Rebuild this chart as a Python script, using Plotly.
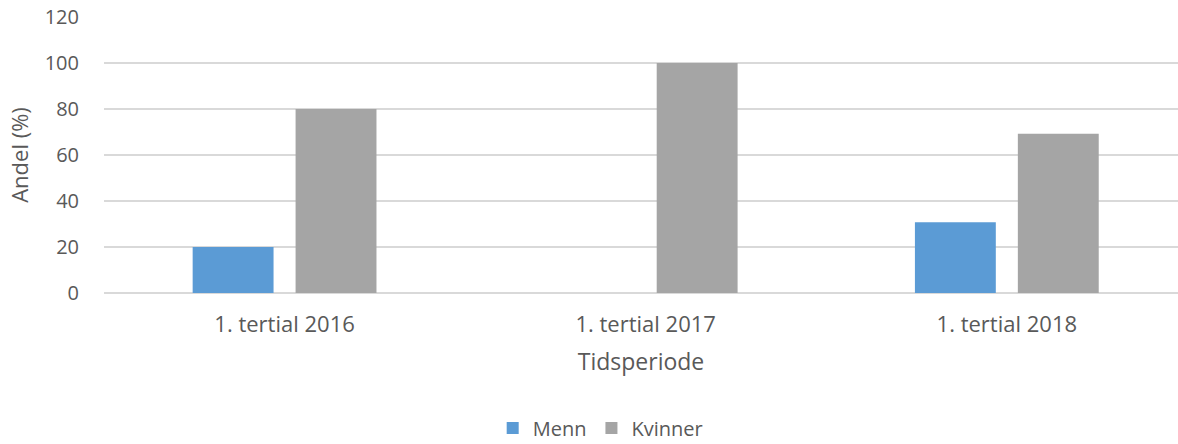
import plotly.graph_objects as go

# data
perioder = ["1. tertial 2016", "1. tertial 2017", "1. tertial 2018"]
menn = [20, 0, 30.8]
kvinner = [80, 100, 69.2]
y_ticks = [0, 20, 40, 60, 80, 100, 120]

FONT = "Open Sans"
GREY_TXT = "#595959"

fig = go.Figure()

fig.add_trace(go.Bar(x=perioder, y=menn, name="Menn",
                     marker=dict(color="#5b9bd5", line=dict(width=0))))
fig.add_trace(go.Bar(x=perioder, y=kvinner, name="Kvinner",
                     marker=dict(color="#a5a5a5", line=dict(width=0))))

fig.update_layout(
    width=1178, height=444,
    margin=dict(l=104, r=0, t=17, b=151),
    plot_bgcolor="white", paper_bgcolor="white",
    barmode="group", bargap=0.43, bargroupgap=0.214,
    font=dict(family=FONT, size=20, color=GREY_TXT),
    showlegend=True,
    legend=dict(orientation="h", x=0.462, xanchor="center",
                yref="container", y=0.036, yanchor="middle",
                font=dict(size=20, color=GREY_TXT), tracegroupgap=0),
)

fig.update_xaxes(
    range=[-0.5, 2.474], automargin=False,
    showgrid=False, showline=False, zeroline=False,
    ticks="outside", ticklen=12, tickcolor="rgba(0,0,0,0)",
    tickfont=dict(size=22, color=GREY_TXT),
    title=dict(text="Tidsperiode", font=dict(size=23, color=GREY_TXT), standoff=16),
)

fig.update_yaxes(
    range=[0, 120], tickvals=y_ticks, automargin=False,
    showgrid=True, gridcolor="#d9d9d9", gridwidth=1.5,
    zeroline=True, zerolinecolor="#d9d9d9", zerolinewidth=1.5,
    ticks="outside", ticklen=20, tickcolor="rgba(0,0,0,0)",
    tickfont=dict(size=20, color=GREY_TXT),
    title=dict(text="Andel (%)", font=dict(size=22, color=GREY_TXT), standoff=9),
)

# fjern standard body-marg så figuren ligger helt i hjørnet
fig.write_html("out.html", config={"displayModeBar": False},
               post_script="document.body.style.margin='0';")
